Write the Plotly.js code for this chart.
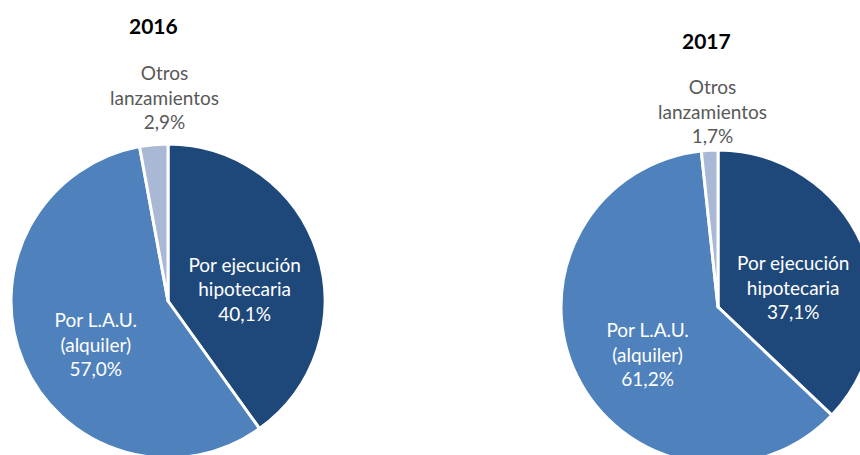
<!DOCTYPE html>
<html>
<head>
<meta charset="utf-8">
<script src="https://cdn.plot.ly/plotly-3.0.1.min.js"></script>
<style>
html,body{margin:0;padding:0;overflow:hidden;background:#fff;}
#chart{width:880px;height:470px;}
</style>
</head>
<body>
<div id="chart"></div>
<script>
const categories = ["Por ejecución<br>hipotecaria", "Por L.A.U.<br>(alquiler)", "Otros<br>lanzamientos"];
const values2016 = [40.1, 57.0, 2.9];
const values2017 = [37.1, 61.2, 1.7];
const years = ["2016", "2017"];
const colors = ["#1f487a", "#4f81bd", "#a9b8d5"];
const textPos = ["inside", "inside", "none"];

const W = 880, H = 470;
const FONT = "Lato, 'Open Sans', sans-serif";

function fmt(v) { return v.toFixed(1).replace(".", ",") + "%"; }

function pieTrace(vals, dom) {
  return {
    type: "pie",
    labels: categories,
    values: vals,
    sort: false,
    direction: "clockwise",
    rotation: 0,
    domain: dom,
    marker: {colors: colors, line: {color: "#ffffff", width: 3}},
    texttemplate: "&nbsp;<br>%{label}<br>%{value:.1f}%",
    textposition: textPos,
    insidetextorientation: "horizontal",
    insidetextfont: {family: FONT, size: 19, color: "#ffffff"},
    hoverinfo: "label+value",
    showlegend: false
  };
}

const data = [
  pieTrace(values2016, {x: [11 / W, 325 / W], y: [(H - 458) / H, (H - 144) / H]}),
  pieTrace(values2017, {x: [561 / W, 875 / W], y: [(H - 464) / H, (H - 150) / H]})
];

function ann(text, px, py, font) {
  return {text: text, x: px / W, y: (H - py) / H, xref: "paper", yref: "paper",
          xanchor: "center", yanchor: "middle", showarrow: false, font: font};
}
const titleFont = {family: FONT, size: 21, color: "#000000"};
const outFont = {family: FONT, size: 19, color: "#595959"};

const layout = {
  width: W,
  height: H,
  margin: {l: 0, r: 0, t: 0, b: 0},
  paper_bgcolor: "#ffffff",
  separators: ",.",
  font: {family: FONT},
  annotations: [
    ann("<b>" + years[0] + "</b>", 153, 26, titleFont),
    ann("<b>" + years[1] + "</b>", 706, 40, titleFont),
    ann(categories[2] + "<br>" + fmt(values2016[2]), 164, 97, outFont),
    ann(categories[2] + "<br>" + fmt(values2017[2]), 712, 111, outFont)
  ]
};

Plotly.newPlot("chart", data, layout, {displayModeBar: false, staticPlot: true});
</script>
</body>
</html>
